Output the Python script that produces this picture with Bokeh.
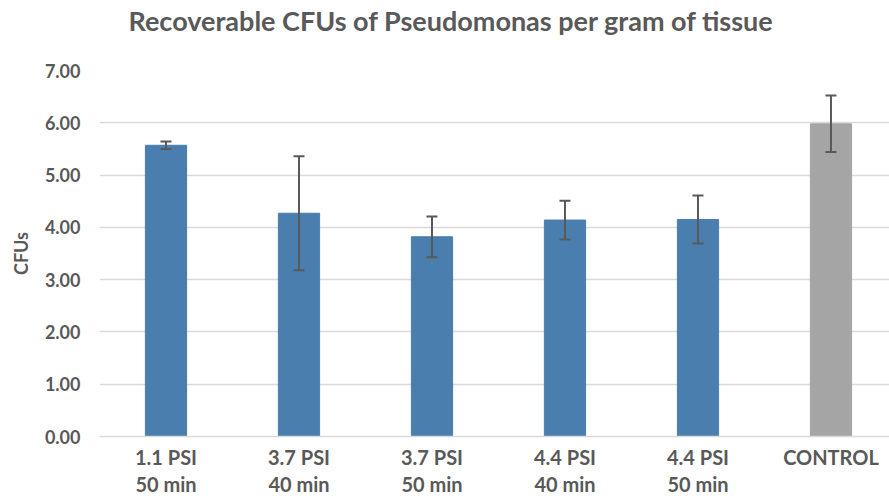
from bokeh.plotting import figure
from bokeh.models import ColumnDataSource, Whisker, TeeHead, Range1d, FixedTicker, Title
from bokeh.embed import file_html
from bokeh.resources import INLINE

title_text = "Recoverable CFUs of Pseudomonas per gram of tissue"
categories = ["1.1 PSI\n50 min", "3.7 PSI\n40 min", "3.7 PSI\n50 min",
              "4.4 PSI\n40 min", "4.4 PSI\n50 min", "CONTROL"]
values = [5.57, 4.27, 3.82, 4.14, 4.15, 5.98]
errors = [0.07, 1.09, 0.39, 0.37, 0.46, 0.54]
colors = ["#4A7EAE"] * 5 + ["#A5A5A5"]
y_ticks = [0, 1, 2, 3, 4, 5, 6, 7]

xs = list(range(len(categories)))
src = ColumnDataSource(dict(
    x=xs, top=values, color=colors,
    upper=[v + e for v, e in zip(values, errors)],
    lower=[v - e for v, e in zip(values, errors)],
))

FONT = "Lato"
GREY = "#595959"

p = figure(width=889, height=499, output_backend="svg", toolbar_location=None,
           x_range=Range1d(-0.5, 5.44), y_range=Range1d(0, 7),
           min_border_left=99, min_border_right=0, min_border_bottom=62,
           min_border_top=70)

p.vbar(x="x", top="top", width=0.31, color="color", source=src)
w = Whisker(base="x", upper="upper", lower="lower", source=src,
            line_color=GREY, line_width=2, level="overlay")
w.upper_head = TeeHead(size=11, line_color=GREY, line_width=2)
w.lower_head = TeeHead(size=11, line_color=GREY, line_width=2)
p.add_layout(w)

# thin spacer between frame and title (keeps the title high above the frame)
spacer = Title(text=" ", text_font_size="1px", standoff=31)
p.add_layout(spacer, "above")

p.title.text = title_text
p.title.text_font = FONT
p.title.text_font_size = "27px"
p.title.text_font_style = "bold"
p.title.text_color = GREY
p.title.align = "left"
p.title.vertical_align = "bottom"
p.title.offset = 29
p.title.standoff = 0

p.outline_line_color = None
p.xgrid.grid_line_color = None
p.ygrid.grid_line_color = "#D9D9D9"
p.ygrid.grid_line_width = 1.5

p.yaxis.ticker = FixedTicker(ticks=y_ticks)
p.yaxis.major_label_overrides = {t: f"{t:.2f}" for t in y_ticks}
p.yaxis.axis_line_color = None
p.yaxis.major_tick_line_color = None
p.yaxis.major_tick_out = 0
p.yaxis.major_tick_in = 0
p.yaxis.minor_tick_line_color = None
p.yaxis.major_label_text_font = FONT
p.yaxis.major_label_text_font_size = "18px"
p.yaxis.major_label_text_font_style = "bold"
p.yaxis.major_label_text_color = GREY
p.yaxis.major_label_standoff = 19
p.yaxis.axis_label = "CFUs"
p.yaxis.axis_label_text_font = FONT
p.yaxis.axis_label_text_font_size = "18px"
p.yaxis.axis_label_text_font_style = "bold"
p.yaxis.axis_label_text_color = GREY
p.yaxis.axis_label_standoff = 10

p.xaxis.ticker = FixedTicker(ticks=xs)
p.xaxis.major_label_overrides = {i: c for i, c in zip(xs, categories)}
p.xaxis.axis_line_color = "#D9D9D9"
p.xaxis.axis_line_width = 1.5
p.xaxis.major_tick_line_color = None
p.xaxis.major_tick_out = 0
p.xaxis.major_tick_in = 0
p.xaxis.minor_tick_line_color = None
p.xaxis.major_label_text_font = FONT
p.xaxis.major_label_text_font_size = "20px"
p.xaxis.major_label_text_font_style = "bold"
p.xaxis.major_label_text_color = GREY
p.xaxis.major_label_text_line_height = 1.15
p.xaxis.major_label_standoff = 8

open("out.html", "w").write(file_html(p, INLINE))
